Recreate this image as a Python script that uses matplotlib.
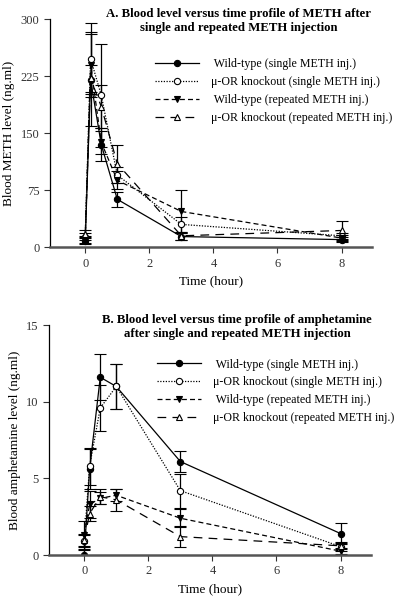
import matplotlib
matplotlib.use("Agg")
import matplotlib.pyplot as plt

plt.rcParams["font.family"] = ["Liberation Serif", "DejaVu Serif"]

time_h = [0, 0.167, 0.5, 1, 3, 8]
labels = [
    " Wild-type (single METH inj.)",
    "\u03bc-OR knockout (single METH inj.)",
    " Wild-type (repeated METH inj.)",
    "\u03bc-OR knockout (repeated METH inj.)",
]

# panel A: blood METH (ng/ml)
meth_wt_single = [8, 220, 135, 63, 14, 10]
meth_wt_single_err = [4, 60, 22, 10, 5, 3]
meth_ko_single = [14, 248, 200, 95, 30, 15]
meth_ko_single_err = [5, 47, 68, 10, 10, 4]
meth_wt_rep = [10, 240, 138, 88, 47, 12]
meth_wt_rep_err = [5, 43, 15, 12, 28, 4]
meth_ko_rep = [18, 222, 185, 110, 15, 22]
meth_ko_rep_err = [4, 18, 28, 25, 5, 12]

# panel B: blood amphetamine (ng/ml)
amph_wt_single = [0.0, 5.6, 11.6, 11.0, 6.1, 1.4]
amph_wt_single_err = [0.3, 1.3, 1.5, 1.5, 0.7, 0.7]
amph_ko_single = [0.9, 5.8, 9.6, 11.0, 4.2, 0.55]
amph_ko_single_err = [0.4, 1.2, 1.5, 1.5, 1.1, 0.3]
amph_wt_rep = [1.3, 3.3, 3.7, 3.9, 2.4, 0.25]
amph_wt_rep_err = [0.9, 0.9, 0.4, 0.4, 0.6, 0.2]
amph_ko_rep = [1.0, 2.7, 3.8, 3.6, 1.2, 0.6]
amph_ko_rep_err = [0.4, 0.5, 0.5, 0.7, 0.7, 0.2]

styles = [
    dict(linestyle="-", marker="o", mfc="black"),
    dict(linestyle=(0, (1, 1.2)), marker="o", mfc="white"),
    dict(linestyle=(0, (4, 2.5)), marker="v", mfc="black"),
    dict(linestyle=(0, (7, 5)), marker="^", mfc="white"),
]


def draw(ax, series, ylim, yticks, ylabel, title, legend_at):
    for (values, errs), style, label in zip(series, styles, labels):
        ax.errorbar(
            time_h, values, yerr=errs, color="black", linewidth=0.9,
            elinewidth=0.9, capsize=4, capthick=0.9, markersize=4.5,
            mec="black", mew=0.8, label=label, **style,
        )
    ax.set_xlim(-1.1, 8.95)
    ax.set_ylim(*ylim)
    ax.set_xticks([0, 2, 4, 6, 8])
    ax.set_yticks(yticks)
    ax.spines["top"].set_visible(False)
    ax.spines["right"].set_visible(False)
    ax.spines["bottom"].set_linewidth(1.8)
    ax.spines["bottom"].set_color("#555555")
    ax.spines["left"].set_linewidth(0.9)
    ax.tick_params(direction="out", length=4, width=0.8, labelsize=9, colors="#333333")
    ax.set_xlabel("Time (hour)", fontsize=9.5)
    ax.set_ylabel(ylabel, fontsize=9.5)
    ax.text(0.585, 1.05, title, transform=ax.transAxes, ha="center", va="top",
            fontsize=9.2, fontweight="bold", linespacing=1.2)
    leg_handles = [
        plt.Line2D([], [], color="black", linewidth=0.9, markersize=4.5,
                   mec="black", mew=0.8, **style)
        for style in styles
    ]
    ax.legend(leg_handles, labels, loc="upper left", bbox_to_anchor=legend_at,
              frameon=False, fontsize=8.6, handlelength=3.7, handletextpad=1.0,
              labelspacing=0.5, borderaxespad=0, borderpad=0)


fig = plt.figure(figsize=(4, 6), dpi=100)
ax_a = fig.add_axes([0.125, 0.588, 0.805, 0.38])
ax_b = fig.add_axes([0.1225, 0.075, 0.805, 0.383])

draw(
    ax_a,
    [(meth_wt_single, meth_wt_single_err), (meth_ko_single, meth_ko_single_err),
     (meth_wt_rep, meth_wt_rep_err), (meth_ko_rep, meth_ko_rep_err)],
    (0, 300), [0, 75, 150, 225, 300], "Blood METH level (ng.ml)",
    "A. Blood level versus time profile of METH after\nsingle and repeated METH injection",
    (0.326, 0.83),
)
draw(
    ax_b,
    [(amph_wt_single, amph_wt_single_err), (amph_ko_single, amph_ko_single_err),
     (amph_wt_rep, amph_wt_rep_err), (amph_ko_rep, amph_ko_rep_err)],
    (0, 15), [0, 5, 10, 15], "Blood amphetamine level (ng.ml)",
    "B. Blood level versus time profile of amphetamine\nafter single and repeated METH injection",
    (0.335, 0.855),
)

fig.savefig("out.png", dpi=100, facecolor="white")
